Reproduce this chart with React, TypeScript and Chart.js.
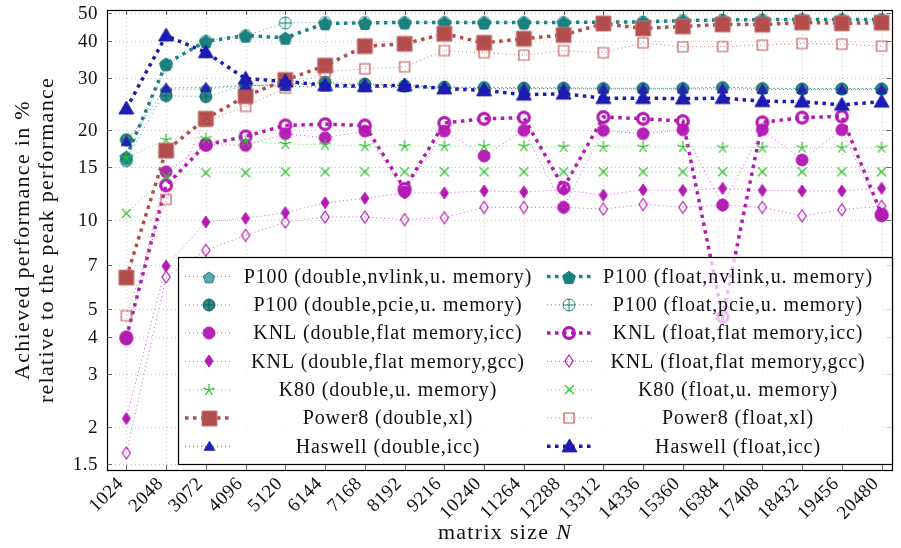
import React, { useEffect, useRef } from "react";
import { Chart, registerables } from "chart.js";

Chart.register(...registerables);

// ---------------- data ----------------
const sizes = [1024, 2048, 3072, 4096, 5120, 6144, 7168, 8192, 9216, 10240, 11264, 12288, 13312, 14336, 15360, 16384, 17408, 18432, 19456, 20480];
const yTicks = [1.5, 2, 3, 4, 5, 7, 10, 15, 20, 30, 40, 50];

const p100DoubleNvlink = [16.0, 27.4, 27.6, 28.3, 28.5, 28.8, 28.4, 28.3, 28.1, 27.9, 27.9, 27.9, 27.8, 27.8, 27.8, 28.0, 27.8, 27.7, 27.7, 27.7];
const p100FloatNvlink = [16.3, 33.6, 40.0, 41.8, 41.1, 46.0, 46.1, 46.3, 46.3, 46.3, 46.3, 46.3, 46.4, 46.5, 47.0, 47.2, 47.3, 47.4, 47.4, 47.4];
const p100DoublePcie = [18.6, 26.2, 26.0, 28.4, 28.6, 29.1, 28.7, 28.3, 28.0, 27.9, 27.8, 27.8, 27.7, 27.7, 27.7, 27.9, 27.7, 27.6, 27.6, 27.6];
const p100FloatPcie = [15.8, 33.2, 40.0, 41.8, 46.1, 46.3, 46.3, 46.3, 46.3, 46.3, 46.3, 46.3, 46.4, 46.5, 47.0, 47.2, 47.3, 47.4, 47.4, 47.4];
const knlDoubleIcc = [3.95, 14.5, 17.9, 17.8, 19.5, 18.9, 19.9, 12.4, 19.9, 16.4, 20.0, 11.0, 20.0, 19.5, 20.1, 11.2, 20.1, 15.9, 20.1, 10.3];
const knlFloatIcc = [4.0, 13.05, 17.9, 19.1, 20.8, 21.0, 20.8, 12.7, 21.2, 21.9, 22.1, 12.8, 22.2, 21.9, 21.5, 4.7, 21.3, 22.1, 22.3, 10.4];
const knlDoubleGcc = [2.13, 6.97, 9.82, 10.1, 10.55, 11.4, 11.8, 12.3, 12.3, 12.5, 12.4, 12.6, 12.1, 12.6, 12.55, 12.75, 12.55, 12.5, 12.5, 12.75];
const knlFloatGcc = [1.63, 6.4, 7.88, 8.85, 9.8, 10.2, 10.2, 10.0, 10.15, 11.0, 11.0, 11.0, 10.85, 11.25, 11.0, 11.2, 11.0, 10.3, 10.8, 11.1];
const k80Double = [16.2, 18.6, 18.8, 18.4, 18.0, 17.9, 17.7, 17.7, 17.7, 17.7, 17.7, 17.6, 17.6, 17.6, 17.6, 17.5, 17.5, 17.5, 17.5, 17.5];
const k80Float = [10.5, 14.0, 14.4, 14.4, 14.5, 14.5, 14.5, 14.5, 14.5, 14.5, 14.5, 14.5, 14.5, 14.5, 14.5, 14.5, 14.5, 14.5, 14.5, 14.5];
const power8Double = [6.37, 17.1, 21.9, 26.1, 29.6, 33.1, 38.5, 39.2, 42.4, 39.5, 40.8, 42.0, 45.9, 44.2, 44.9, 45.6, 45.5, 46.3, 46.0, 46.2];
const power8Float = [4.74, 11.7, 21.5, 24.1, 27.8, 31.5, 32.3, 32.8, 37.2, 36.6, 35.9, 37.2, 36.6, 39.5, 38.3, 38.4, 38.8, 39.3, 39.1, 38.5];
const haswellDouble = [18.3, 27.8, 27.9, 28.4, 28.2, 28.0, 27.9, 27.9, 27.8, 27.7, 27.7, 27.7, 27.6, 27.6, 27.6, 27.6, 27.5, 27.5, 27.5, 27.5];
const haswellFloat = [23.7, 41.8, 36.7, 29.9, 29.3, 28.4, 28.2, 28.4, 27.7, 27.3, 26.4, 26.6, 25.7, 25.7, 25.6, 25.7, 25.1, 25.0, 24.4, 25.0];

const seriesLabels = [
  "P100 (double,nvlink,u. memory)",
  "P100 (float,nvlink,u. memory)",
  "P100 (double,pcie,u. memory)",
  "P100 (float,pcie,u. memory)",
  "KNL (double,flat memory,icc)",
  "KNL (float,flat memory,icc)",
  "KNL (double,flat memory,gcc)",
  "KNL (float,flat memory,gcc)",
  "K80 (double,u. memory)",
  "K80 (float,u. memory)",
  "Power8 (double,xl)",
  "Power8 (float,xl)",
  "Haswell (double,icc)",
  "Haswell (float,icc)",
];
const seriesValues = [
  p100DoubleNvlink, p100FloatNvlink, p100DoublePcie, p100FloatPcie,
  knlDoubleIcc, knlFloatIcc, knlDoubleGcc, knlFloatGcc,
  k80Double, k80Float, power8Double, power8Float, haswellDouble, haswellFloat,
];

// ---------------- styles ----------------
type Kind = "pentagon" | "oplus" | "circle" | "ring" | "diamond" | "star" | "x" | "square" | "triangle";
interface Style { kind: Kind; size: number; fill: string | null; stroke: string; lw: number; line: string; thick: boolean; }

const TEAL = "#1a8080";
const MAG = "#b31ab3";
const GREEN = "#2fbf2f";
const BROWN = "#b34d4d";
const BLUE = "#1c1cb0";

const styles: Style[] = [
  { kind: "pentagon", size: 12, fill: "rgba(40,140,140,0.75)", stroke: TEAL, lw: 1, line: "#5aa8a8", thick: false },
  { kind: "pentagon", size: 13.5, fill: TEAL, stroke: TEAL, lw: 1, line: TEAL, thick: true },
  { kind: "oplus", size: 12, fill: "#2a8888", stroke: "#0f6464", lw: 1, line: "#5aa8a8", thick: false },
  { kind: "oplus", size: 12, fill: null, stroke: TEAL, lw: 1, line: "#5aa8a8", thick: false },
  { kind: "circle", size: 12, fill: "#b521b5", stroke: "#b521b5", lw: 1, line: "#cc5ccc", thick: false },
  { kind: "ring", size: 14, fill: null, stroke: MAG, lw: 3.2, line: MAG, thick: true },
  { kind: "diamond", size: 12, fill: MAG, stroke: MAG, lw: 1, line: "#cc5ccc", thick: false },
  { kind: "diamond", size: 12, fill: null, stroke: MAG, lw: 1.2, line: "#cc5ccc", thick: false },
  { kind: "star", size: 12, fill: null, stroke: GREEN, lw: 1.2, line: "#6ad66a", thick: false },
  { kind: "x", size: 9, fill: null, stroke: GREEN, lw: 1.2, line: "#6ad66a", thick: false },
  { kind: "square", size: 15, fill: BROWN, stroke: "#c77a7a", lw: 1, line: BROWN, thick: true },
  { kind: "square", size: 10, fill: null, stroke: "#c25757", lw: 1.2, line: "#cf7a7a", thick: false },
  { kind: "triangle", size: 10.5, fill: "#2424b0", stroke: "#2424b0", lw: 1, line: "#5a5acc", thick: false },
  { kind: "triangle", size: 15, fill: BLUE, stroke: BLUE, lw: 1, line: BLUE, thick: true },
];

const SERIF = '"Liberation Serif", "Times New Roman", serif';

function makeMarker(st: Style): HTMLCanvasElement {
  const pad = Math.ceil(st.lw) + 2;
  const dim = Math.ceil(st.size + pad * 2);
  const c = document.createElement("canvas");
  c.width = dim;
  c.height = dim;
  const ctx = c.getContext("2d") as CanvasRenderingContext2D;
  const cx = dim / 2, cy = dim / 2, r = st.size / 2;
  ctx.lineWidth = st.lw;
  ctx.strokeStyle = st.stroke;
  ctx.fillStyle = st.fill || "transparent";
  ctx.lineJoin = "miter";
  ctx.beginPath();
  switch (st.kind) {
    case "pentagon":
      for (let k = 0; k < 5; k++) {
        const a = -Math.PI / 2 + (k * 2 * Math.PI) / 5;
        const px = cx + r * Math.cos(a), py = cy + 1 + r * Math.sin(a);
        if (k === 0) ctx.moveTo(px, py); else ctx.lineTo(px, py);
      }
      ctx.closePath();
      break;
    case "oplus":
    case "circle":
      ctx.arc(cx, cy, r, 0, Math.PI * 2);
      break;
    case "ring":
      ctx.arc(cx, cy, r - st.lw / 2, 0, Math.PI * 2);
      break;
    case "diamond":
      ctx.moveTo(cx, cy - r);
      ctx.lineTo(cx + r * 0.68, cy);
      ctx.lineTo(cx, cy + r);
      ctx.lineTo(cx - r * 0.68, cy);
      ctx.closePath();
      break;
    case "square":
      ctx.rect(cx - r, cy - r, 2 * r, 2 * r);
      break;
    case "triangle":
      ctx.moveTo(cx, cy - r);
      ctx.lineTo(cx + r, cy + r * 0.72);
      ctx.lineTo(cx - r, cy + r * 0.72);
      ctx.closePath();
      break;
    case "star":
      for (let k = 0; k < 5; k++) {
        const a = -Math.PI / 2 + (k * 2 * Math.PI) / 5;
        ctx.moveTo(cx, cy);
        ctx.lineTo(cx + r * Math.cos(a), cy + r * Math.sin(a));
      }
      break;
    case "x":
      ctx.moveTo(cx - r, cy - r);
      ctx.lineTo(cx + r, cy + r);
      ctx.moveTo(cx + r, cy - r);
      ctx.lineTo(cx - r, cy + r);
      break;
  }
  if (st.fill) ctx.fill();
  ctx.stroke();
  if (st.kind === "oplus") {
    ctx.beginPath();
    ctx.moveTo(cx - r, cy);
    ctx.lineTo(cx + r, cy);
    ctx.moveTo(cx, cy - r);
    ctx.lineTo(cx, cy + r);
    ctx.stroke();
  }
  return c;
}

function dashFor(st: Style): number[] {
  return st.thick ? [3.5, 4.5] : [1, 3];
}
function widthFor(st: Style): number {
  return st.thick ? 3.5 : 1;
}

export default function App() {
  const ref = useRef<HTMLCanvasElement>(null);

  useEffect(() => {
    document.body.style.margin = "0";
    const canvas = ref.current;
    if (!canvas) return;
    const markers = styles.map(makeMarker);

    const datasets = seriesValues.map((vals, i) => ({
      label: seriesLabels[i],
      data: vals.map((v, j) => ({ x: sizes[j], y: v })),
      borderColor: styles[i].line,
      backgroundColor: styles[i].fill || styles[i].stroke,
      borderWidth: widthFor(styles[i]),
      borderDash: dashFor(styles[i]),
      borderCapStyle: "butt" as const,
      pointStyle: markers[i],
      pointRadius: 6,
      pointHoverRadius: 6,
      fill: false,
      tension: 0,
      order: seriesValues.length - 1 - i,
    }));

    const decor = {
      id: "decor",
      beforeDatasetsDraw(chart: any) {
        const { ctx, chartArea: a, scales } = chart;
        ctx.save();
        ctx.strokeStyle = "#c9c9c9";
        ctx.lineWidth = 1;
        ctx.setLineDash([1, 3]);
        for (const s of sizes) {
          const x = Math.round(scales.x.getPixelForValue(s)) + 0.5;
          ctx.beginPath();
          ctx.moveTo(x, a.top);
          ctx.lineTo(x, a.bottom);
          ctx.stroke();
        }
        for (const v of yTicks) {
          const y = Math.round(scales.y.getPixelForValue(v)) + 0.5;
          ctx.beginPath();
          ctx.moveTo(a.left, y);
          ctx.lineTo(a.right, y);
          ctx.stroke();
        }
        ctx.restore();
      },
      afterDatasetsDraw(chart: any) {
        const { ctx, chartArea: a, scales } = chart;
        ctx.save();
        // frame
        ctx.strokeStyle = "#000";
        ctx.lineWidth = 1.2;
        ctx.setLineDash([]);
        ctx.strokeRect(Math.round(a.left) + 0.5, Math.round(a.top) + 0.5, Math.round(a.right - a.left), Math.round(a.bottom - a.top));
        ctx.lineWidth = 0.8;
        ctx.strokeStyle = "#444";
        const tl = 5;
        for (const s of sizes) {
          const x = Math.round(scales.x.getPixelForValue(s)) + 0.5;
          ctx.beginPath();
          ctx.moveTo(x, a.bottom);
          ctx.lineTo(x, a.bottom - tl);
          ctx.moveTo(x, a.top);
          ctx.lineTo(x, a.top + tl);
          ctx.stroke();
        }
        for (const v of yTicks) {
          const y = Math.round(scales.y.getPixelForValue(v)) + 0.5;
          ctx.beginPath();
          ctx.moveTo(a.left, y);
          ctx.lineTo(a.left + tl, y);
          ctx.moveTo(a.right, y);
          ctx.lineTo(a.right - tl, y);
          ctx.stroke();
        }

        // tick labels
        ctx.fillStyle = "#111";
        ctx.font = `19px ${SERIF}`;
        (ctx as any).letterSpacing = "0.5px";
        ctx.textBaseline = "middle";
        ctx.textAlign = "right";
        for (const v of yTicks) {
          const y = scales.y.getPixelForValue(v);
          ctx.fillText(String(v), 98, y + 1);
        }
        for (const s of sizes) {
          const x = scales.x.getPixelForValue(s);
          ctx.save();
          ctx.translate(x - 5.5, a.bottom + 11);
          ctx.rotate(-Math.PI / 4);
          ctx.fillText(String(s), 0, 0);
          ctx.restore();
        }

        // legend
        const L = 178, T = 257, R = 892, B = 464;
        ctx.fillStyle = "rgba(255,255,255,0.72)";
        ctx.fillRect(L, T, R - L, B - T);
        ctx.strokeStyle = "#000";
        ctx.lineWidth = 1.2;
        ctx.strokeRect(L + 0.5, T + 0.5, R - L, B - T);
        const rowH = 28.3;
        const cols = [
          { l0: 185, l1: 233, mx: 209, tx: 388 },
          { l0: 547, l1: 592, mx: 569, tx: 738 },
        ];
        ctx.font = `20px ${SERIF}`;
        (ctx as any).letterSpacing = "0.9px";
        ctx.textAlign = "center";
        ctx.textBaseline = "middle";
        for (let i = 0; i < seriesLabels.length; i++) {
          const st = styles[i];
          const col = cols[i % 2];
          const y = T + 19.5 + Math.floor(i / 2) * rowH;
          ctx.save();
          ctx.strokeStyle = st.line;
          ctx.lineWidth = widthFor(st);
          ctx.setLineDash(dashFor(st));
          ctx.beginPath();
          ctx.moveTo(col.l0, y);
          ctx.lineTo(col.l1, y);
          ctx.stroke();
          ctx.restore();
          const m = markers[i];
          ctx.drawImage(m, Math.round(col.mx - m.width / 2), Math.round(y - m.height / 2));
          ctx.fillStyle = "#111";
          ctx.fillText(seriesLabels[i], col.tx, y + 1);
        }
        ctx.restore();
      },
      afterDraw(chart: any) {
        const { ctx } = chart;
        ctx.save();
        ctx.fillStyle = "#111";
        ctx.textBaseline = "middle";
        ctx.textAlign = "center";
        (ctx as any).letterSpacing = "1.3px";
        ctx.font = `22px ${SERIF}`;
        // y title (two lines)
        ctx.save();
        ctx.translate(23, 240);
        ctx.rotate(-Math.PI / 2);
        ctx.fillText("Achieved performance in %", 0, 0);
        ctx.restore();
        ctx.save();
        ctx.translate(47, 240);
        ctx.rotate(-Math.PI / 2);
        ctx.fillText("relative to the peak performance", 0, 0);
        ctx.restore();
        // x title: "matrix size N" with italic N
        const part1 = "matrix size ";
        const part2 = "N";
        ctx.font = `22px ${SERIF}`;
        const w1 = ctx.measureText(part1).width;
        ctx.font = `italic 22px ${SERIF}`;
        const w2 = ctx.measureText(part2).width;
        const x0 = 505 - (w1 + w2) / 2;
        ctx.textAlign = "left";
        ctx.font = `22px ${SERIF}`;
        ctx.fillText(part1, x0, 533);
        ctx.font = `italic 22px ${SERIF}`;
        ctx.fillText(part2, x0 + w1, 533);
        ctx.restore();
      },
    };

    const chart = new Chart(canvas, {
      type: "line",
      data: { datasets: datasets as any },
      options: {
        animation: false,
        responsive: false,
        devicePixelRatio: 1,
        layout: { padding: { top: 10, right: 3, left: 0, bottom: 0 } },
        plugins: { legend: { display: false }, tooltip: { enabled: false } },
        scales: {
          x: {
            type: "linear",
            bounds: "data",
            min: 526,
            max: 20735,
            afterBuildTicks: (s: any) => {
              s.ticks = sizes.map((v) => ({ value: v }));
            },
            afterFit: (s: any) => {
              s.height = 78;
            },
            ticks: { display: false },
            grid: { display: false },
            border: { display: false },
          },
          y: {
            type: "logarithmic",
            min: 1.428,
            max: 51,
            afterBuildTicks: (s: any) => {
              s.ticks = yTicks.map((v) => ({ value: v }));
            },
            afterFit: (s: any) => {
              s.width = 107;
            },
            ticks: { display: false },
            grid: { display: false },
            border: { display: false },
          },
        },
      },
      plugins: [decor],
    } as any);

    return () => chart.destroy();
  }, []);

  return (
    <div style={{ width: 901, height: 548, position: "relative", background: "#fff" }}>
      <canvas ref={ref} width={901} height={548} style={{ display: "block", width: 901, height: 548 }} />
    </div>
  );
}
